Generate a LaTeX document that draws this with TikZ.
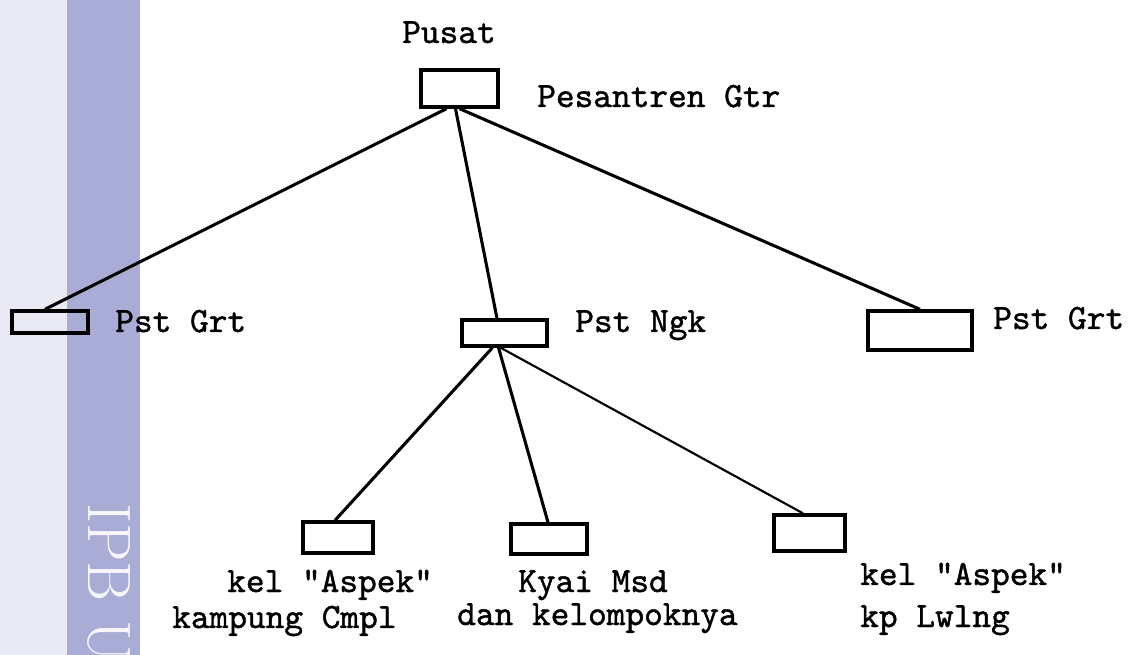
\documentclass[tikz,border=0pt]{standalone}
\usepackage{fontspec}
\usetikzlibrary{calc}
\newfontfamily\tw{lmmono10-regular}[Extension=.otf, FakeBold=1.2]
\definecolor{stripL}{RGB}{233,233,244}
\definecolor{stripB}{RGB}{169,173,213}
\definecolor{wm}{RGB}{246,246,252}
\tikzset{
  bx/.style 2 args={draw, line width=2.5pt, inner sep=0pt, minimum width=#1*0.75pt, minimum height=#2*0.75pt},
  lbl/.style={anchor=base west, inner sep=0pt, font=\tw\fontsize{26.7}{30}\selectfont},
  link/.style={line width=2.3pt},
  thin link/.style={line width=1.6pt}
}
\begin{document}
\begin{tikzpicture}[x=0.75pt,y=-0.75pt]
\useasboundingbox (0,0) rectangle (1139,655);
\clip (0,0) rectangle (1139,655);
% watermark strip
\fill[stripL] (0,0) rectangle (67,655);
\fill[stripB] (67,0) rectangle (140,655);
\node[wm, rotate=-90, anchor=base west, inner sep=0pt, font=\fontsize{46}{50}\selectfont] (wmtext) at (88,503) {IPB U};
% boxes
\node[bx={77}{37}] (top) at (459.5,88.5) {};
\node[bx={76}{22}] (L) at (50,322) {};
\node[bx={85}{26}] (M) at (504.5,333) {};
\node[bx={104}{39}] (R) at (920,330.5) {};
\node[bx={70}{31}] (BL) at (338,537.5) {};
\node[bx={76}{30}] (BM) at (549,539) {};
\node[bx={71}{36}] (BR) at (809.5,533) {};
% labels
\node[lbl] (tPusat) at (402,43) {Pusat};
\node[lbl] (tPes) at (537,107) {Pesantren Gtr};
\node[lbl] (tL) at (115,332) {Pst Grt};
\node[lbl] (tM) at (575,332) {Pst Ngk};
\node[lbl] (tR) at (993,329) {Pst Grt};
\node[lbl] (tBL1) at (227,592) {kel "Aspek"};
\node[lbl] (tBL2) at (172,628) {kampung Cmpl};
\node[lbl] (tBM1) at (518,592) {Kyai Msd};
\node[lbl] (tBM2) at (457,625) {dan kelompoknya};
\node[lbl] (tBR1) at (860,585) {kel "Aspek"};
\node[lbl] (tBR2) at (860,627) {kp Lwlng};
% connectors
\draw[link] ($(top.south)+(-13,0)$) -- ($(L.north)+(-5,0)$);
\draw[link] ($(top.south)+(-4,0)$) -- ($(M.north)+(-7.5,0)$);
\draw[link] ($(top.south)+(0,0)$) -- (R.north);
\draw[link] ($(M.south)+(-12,0)$) -- ($(BL.north)+(-3,0)$);
\draw[link] ($(M.south)+(-6,0)$) -- ($(BM.north)+(-1,0)$);
\draw[thin link] ($(M.south)+(-4,0)$) -- ($(BR.north)+(-6.5,0)$);
\end{tikzpicture}
\end{document}
